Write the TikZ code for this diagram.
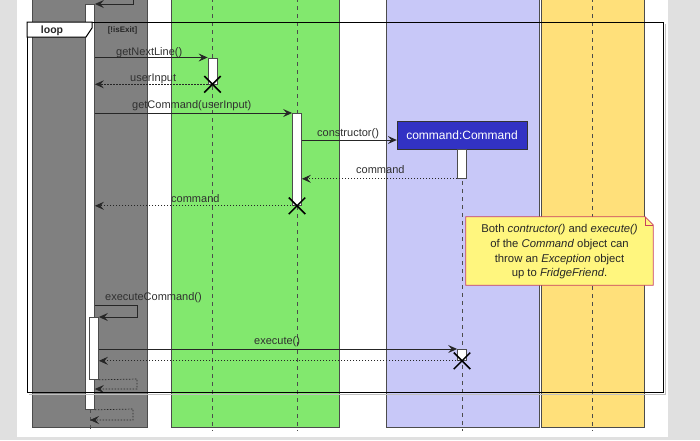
\documentclass[tikz,border=0pt]{standalone}
\usepackage{fontspec}
\setmainfont{Liberation Sans}
\usetikzlibrary{arrows.meta,shapes.misc}

\definecolor{pagegray}{HTML}{E0E0E0}
\definecolor{lanegray}{HTML}{808080}
\definecolor{lanegreen}{HTML}{82E86E}
\definecolor{lanelav}{HTML}{C8C8F8}
\definecolor{laneyellow}{HTML}{FFE07A}
\definecolor{objblue}{HTML}{3232C4}
\definecolor{notefill}{HTML}{FFF67E}
\definecolor{noteedge}{HTML}{C84060}
\definecolor{txt}{HTML}{303030}

\tikzset{
  lane/.style={draw=black!70, line width=0.8pt, inner sep=0pt, anchor=north west},
  lifeline/.style={draw=black!70, line width=1pt, dash pattern=on 4pt off 4pt},
  actbar/.style={draw=black!70, fill=white, line width=0.8pt, inner sep=0pt,
                 minimum width=9pt, anchor=north},
  call/.style={draw=black!85, line width=0.9pt,
               -{Stealth[length=9pt,width=8pt,inset=3.5pt]}},
  reply/.style={draw=black!85, line width=0.7pt, dash pattern=on 1.5pt off 1.5pt,
                -{Stealth[length=9pt,width=8pt,inset=3.5pt]}},
  msglabel/.style={font=\fontsize{11}{13}\selectfont, text=txt, inner sep=0pt,
                   anchor=base west},
  killmark/.style={draw=black, cross out, line width=1.5pt, inner sep=0pt,
                   minimum size=15pt},
}

\begin{document}
\begin{tikzpicture}[x=1pt,y=-1pt]
\useasboundingbox (0,0) rectangle (700,440);
\clip (0,0) rectangle (700,440);

% page background
\fill[pagegray] (0,0) rectangle (700,440);
\fill[white] (17,0) rectangle (668,437);

% swimlanes
\node[lane, fill=lanegray,   minimum width=115pt, minimum height=432pt] (laneA) at (32,-5) {};
\node[lane, fill=lanegreen,  minimum width=168pt, minimum height=432pt] (laneB) at (171,-5) {};
\node[lane, fill=lanelav,    minimum width=153pt, minimum height=432pt] (laneC) at (386,-5) {};
\node[lane, fill=laneyellow, minimum width=103pt, minimum height=432pt] (laneD) at (541,-5) {};

% participant created during the loop
\node[draw=black!80, fill=objblue, text=white, inner sep=0pt,
      minimum width=130pt, minimum height=28pt,
      font=\fontsize{12}{14}\selectfont] (obj) at (462,135) {command:Command};

% lifelines
\coordinate (llA) at (90,431);
\coordinate (llB1top) at (212.5,-2);
\coordinate (llB1) at (212.5,431);
\coordinate (llB2top) at (297,-2);
\coordinate (llB2) at (297,431);
\coordinate (llC) at (462,431);
\coordinate (llDtop) at (592,-2);
\coordinate (llD) at (592,431);
\draw[lifeline] (llB1top) -- (llB1);
\draw[lifeline] (llB2top) -- (llB2);
\draw[lifeline] (obj.south) -- (llC);
\draw[lifeline] (llDtop) -- (llD);
\draw[lifeline] (90,409) -- (llA);

% activation bars
\node[actbar, minimum height=405pt] (mainbar) at (90,4) {};
\node[actbar, minimum height=26pt]  (gnlbar)  at (212.5,57.5) {};
\node[actbar, minimum height=92pt]  (gcbar)   at (297,113) {};
\node[actbar, minimum height=29pt]  (cmdbar)  at (462,149) {};
\node[actbar, minimum height=62pt]  (execbar) at (94,317) {};
\node[actbar, minimum height=11pt]  (exbar)   at (462,349) {};

% note
\node[inner sep=0pt, minimum width=187pt, minimum height=68pt] (note) at (559.5,251) {};
\draw[draw=noteedge, fill=notefill, line width=0.8pt]
  (note.north west) -- ([xshift=-8pt]note.north east)
  -- ([yshift=-8pt]note.north east) -- (note.south east)
  -- (note.south west) -- cycle;
\draw[draw=noteedge, line width=0.6pt]
  ([xshift=-8pt]note.north east) -- ([xshift=-8pt,yshift=-8pt]note.north east)
  -- ([yshift=-8pt]note.north east);
\node[align=center, text=black!85, inner sep=0pt,
      font=\fontsize{11.3}{14.7}\selectfont] (notetext) at (559.5,252)
  {Both \textit{contructor()} and \textit{execute()}\\
   of the \textit{Command} object can\\
   throw an \textit{Exception} object\\
   up to \textit{FridgeFriend}.};

% messages
\coordinate (t0) at (133,-3);
\draw[call] (t0) |- (mainbar.north east);

\draw[call] (mainbar.east |- gnlbar.north west) -- (gnlbar.north west);
\node[msglabel] (l1) at (116,55) {getNextLine()};

\draw[reply] (gnlbar.south west) -- (mainbar.east |- gnlbar.south west);
\node[msglabel] (l2) at (130,81) {userInput};
\node[killmark] (x1) at (gnlbar.south) {};

\draw[call] (mainbar.east |- gcbar.north west) -- (gcbar.north west);
\node[msglabel] (l3) at (132,108) {getCommand(userInput)};

\coordinate (c0) at (gcbar.east |- 0,140);
\coordinate (c1) at (obj.west |- 0,140);
\draw[call] (c0) -- (c1);
\node[msglabel] (l4) at (317,136) {constructor()};

\draw[reply] (cmdbar.south west) -- (gcbar.east |- cmdbar.south west);
\node[msglabel] (l5) at (356,173) {command};

\draw[reply] (gcbar.south) -- (mainbar.east |- gcbar.south);
\node[msglabel] (l6) at (171,202) {command};
\node[killmark] (x2) at (gcbar.south) {};

\coordinate (e0) at (mainbar.east |- 0,305);
\coordinate (e1) at (137,305);
\draw[call] (e0) -- (e1) |- (execbar.north east);
\node[msglabel] (l7) at (105,300) {executeCommand()};

\draw[call] (execbar.east |- exbar.north west) -- (exbar.north west);
\node[msglabel] (l8) at (254,344) {execute()};

\draw[reply] (exbar.south) -- (execbar.east |- exbar.south);
\node[killmark] (x3) at (exbar.south) {};

\coordinate (r1) at (137,379);
\coordinate (r1end) at (mainbar.east |- 0,389);
\draw[reply] (execbar.south east) -- (r1) |- (r1end);

\coordinate (r2) at (133,409);
\coordinate (r2end) at (90,420);
\draw[reply] (mainbar.south east) -- (r2) |- (r2end);

% loop fragment
\draw[black!25, line width=1.5pt] (665.5,24) -- (665.5,394.5) -- (29,394.5);
\node[draw=black, line width=1.4pt, inner sep=0pt, anchor=north west,
      minimum width=636pt, minimum height=370pt] (loopframe) at (27,22) {};
\draw[fill=white, line width=1pt]
  (loopframe.north west) -- (92,22) -- (92,28) -- (86,37) -- (27,37) -- cycle;
\node[font=\fontsize{10.5}{12}\selectfont\bfseries, text=black!85, inner sep=0pt]
  (looplabel) at (52,30.5) {loop};
\node[font=\fontsize{8}{10}\selectfont\bfseries, text=black!85, inner sep=0pt]
  (guard) at (122.5,30.5) {[!isExit]};
\end{tikzpicture}
\end{document}
